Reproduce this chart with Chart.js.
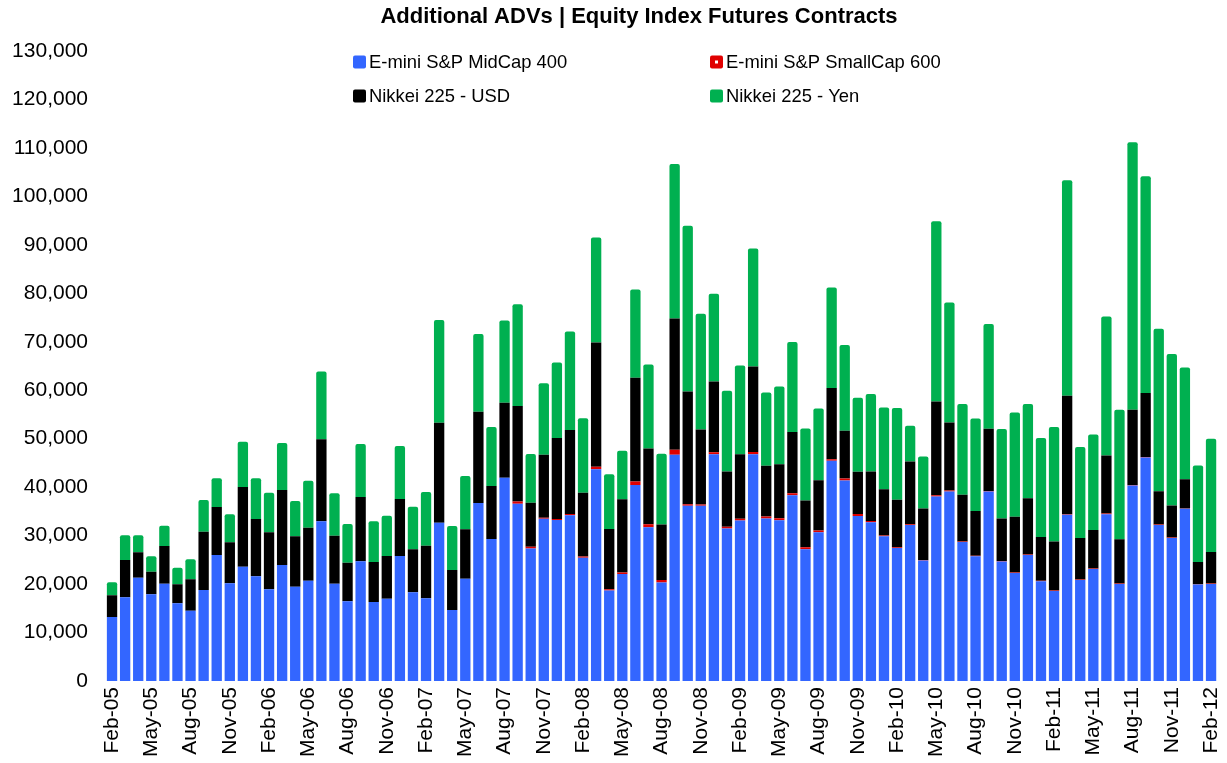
<!DOCTYPE html>
<html lang="en">
<head>
<meta charset="UTF-8">
<title>Additional ADVs | Equity Index Futures Contracts</title>
<script src="https://cdn.jsdelivr.net/npm/chart.js"></script>
<style>
  html, body { margin: 0; padding: 0; background: #fff; }
  #wrap { width: 1227px; height: 763px; position: relative; }
</style>
</head>
<body>
<div id="wrap"><canvas id="grafico"></canvas></div>
<script>
// months, Feb-05 .. Feb-12
const categories = [
  'Feb-05','Mar-05','Apr-05','May-05','Jun-05','Jul-05','Aug-05','Sep-05','Oct-05','Nov-05','Dec-05','Jan-06',
  'Feb-06','Mar-06','Apr-06','May-06','Jun-06','Jul-06','Aug-06','Sep-06','Oct-06','Nov-06','Dec-06','Jan-07',
  'Feb-07','Mar-07','Apr-07','May-07','Jun-07','Jul-07','Aug-07','Sep-07','Oct-07','Nov-07','Dec-07','Jan-08',
  'Feb-08','Mar-08','Apr-08','May-08','Jun-08','Jul-08','Aug-08','Sep-08','Oct-08','Nov-08','Dec-08','Jan-09',
  'Feb-09','Mar-09','Apr-09','May-09','Jun-09','Jul-09','Aug-09','Sep-09','Oct-09','Nov-09','Dec-09','Jan-10',
  'Feb-10','Mar-10','Apr-10','May-10','Jun-10','Jul-10','Aug-10','Sep-10','Oct-10','Nov-10','Dec-10','Jan-11',
  'Feb-11','Mar-11','Apr-11','May-11','Jun-11','Jul-11','Aug-11','Sep-11','Oct-11','Nov-11','Dec-11','Jan-12',
  'Feb-12'
];

const midcap400 = [
  13210,17270,21320,17890,20080,16040,14510,18780,26010,20170,23590,21610,
  18930,23940,19460,20700,32960,20080,16450,24710,16300,16990,25800,18310,
  17070,32670,14650,21120,36740,29310,41960,36550,27320,33500,33230,34200,
  25450,43690,18650,22100,40470,31740,20300,46670,36140,36140,46810,31450,
  33100,46810,33520,33180,38350,27200,30710,45430,41360,34070,32770,29880,
  27460,32210,24840,38060,39090,28700,25750,39090,24640,22300,26020,20590,
  18590,34280,20860,23130,34420,20030,40330,46110,32210,29530,35520,19890,
  20030
];

const smallcap600 = [
  0,0,0,0,0,0,0,0,0,0,0,0,
  0,0,0,0,0,0,0,0,0,0,0,0,
  0,0,0,0,0,0,0,470,400,200,200,250,
  250,540,300,300,680,600,550,1030,340,280,400,400,
  400,450,400,400,400,400,350,350,400,400,250,150,
  150,150,150,250,200,100,100,100,100,100,100,100,
  100,150,100,100,150,100,100,100,100,100,100,100,
  100
];

const nikkeiUsd = [
  4480,7700,5240,4670,7790,3920,6480,12040,9900,8460,16450,11830,
  11760,15480,10410,10940,16930,9910,7970,13270,8260,8810,11760,8870,
  10860,20640,8260,10190,18840,10940,15480,19740,9080,13010,16730,17360,
  13170,25600,12440,15120,21420,15630,11430,27120,23260,15470,14600,11370,
  13310,17640,10480,11170,12610,9630,10390,14660,9870,8690,10200,9560,
  9770,12930,10590,19370,14050,9610,9250,12850,8780,11470,11610,9050,
  10080,24420,8570,7950,11950,9130,15530,13200,6860,6570,6030,4580,
  6510
];

const nikkeiYen = [
  2680,5100,3510,3180,4190,3420,4130,6540,5930,5780,9350,8400,
  8180,9700,7280,9700,13950,8750,7980,10940,8400,8320,10940,8800,
  11080,21200,9080,11000,16040,12180,16930,20990,10050,14730,15540,20290,
  15350,21670,11290,9980,18230,17340,14600,31880,34220,23900,18110,16670,
  18300,24370,15130,16020,18580,14870,14780,20780,17690,15280,15980,16850,
  18930,7370,10740,37170,24780,18730,19060,21620,18460,21530,19410,20380,
  23620,44460,18730,19680,28710,26700,55200,44730,33520,31260,23050,19890,
  23330
];

const yTicks = [0,10000,20000,30000,40000,50000,60000,70000,80000,90000,100000,110000,120000,130000];

const TITULO = 'Additional ADVs | Equity Index Futures Contracts';
const FONT = "'Liberation Sans', Arial, sans-serif";

const series = [
  { label: 'E-mini S&P MidCap 400', data: midcap400, color: '#3366FF' },
  { label: 'E-mini S&P SmallCap 600', data: smallcap600, color: '#E00000' },
  { label: 'Nikkei 225 - USD', data: nikkeiUsd, color: '#000000' },
  { label: 'Nikkei 225 - Yen', data: nikkeiYen, color: '#00B050' }
];

// title + legend drawn by hand (two fixed legend columns like the original)
const leyenda = {
  id: 'leyenda',
  afterDraw(chart) {
    const ctx = chart.ctx;
    ctx.save();
    ctx.fillStyle = '#000';
    ctx.textAlign = 'center';
    ctx.textBaseline = 'middle';
    ctx.font = 'bold 22px ' + FONT;
    ctx.fillText(TITULO, 639, 17);

    const cols = [353, 710];
    const rows = [62, 96];
    ctx.textAlign = 'left';
    ctx.font = '18.4px ' + FONT;
    series.forEach((s, i) => {
      const x = cols[i % 2];
      const y = rows[Math.floor(i / 2)];
      ctx.fillStyle = s.color;
      ctx.beginPath();
      ctx.roundRect(x, y - 6.5, 13, 13, 2);
      ctx.fill();
      if (i === 1) {
        ctx.fillStyle = '#fff';
        ctx.fillRect(x + 5, y - 1.5, 3, 3);
      }
      ctx.fillStyle = '#000';
      ctx.fillText(s.label, x + 16, y + 1);
    });
    ctx.restore();
  }
};

new Chart(document.getElementById('grafico'), {
  type: 'bar',
  data: {
    labels: categories,
    datasets: series.map(s => ({
      label: s.label,
      data: s.data,
      backgroundColor: s.color,
      borderWidth: 0,
      borderRadius: 2,
      categoryPercentage: 1.0,
      barPercentage: 0.79
    }))
  },
  options: {
    responsive: true,
    maintainAspectRatio: false,
    animation: false,
    layout: { padding: { left: 0, right: 9.4, top: 51, bottom: 0 } },
    plugins: {
      legend: { display: false },
      tooltip: { enabled: false },
      title: { display: false }
    },
    scales: {
      x: {
        stacked: true,
        grid: { display: false, drawTicks: false },
        border: { display: false },
        afterFit(scale) {
          scale.height = 82;
          scale.paddingLeft = 0;
          scale.paddingRight = 0;
        },
        ticks: {
          autoSkip: false,
          maxRotation: 90,
          minRotation: 90,
          padding: 6,
          color: '#000',
          font: { family: FONT, size: 21 },
          callback(value, index) {
            return index % 3 === 0 ? categories[index] : '';
          }
        }
      },
      y: {
        stacked: true,
        min: 0,
        max: 130000,
        grid: { display: false, drawTicks: false },
        border: { display: false },
        afterFit(scale) { scale.width = 105.5; },
        afterBuildTicks(scale) { scale.ticks = yTicks.map(v => ({ value: v })); },
        ticks: {
          padding: 17.5,
          color: '#000',
          font: { family: FONT, size: 21 },
          callback(value) { return value.toLocaleString('en-US'); }
        }
      }
    }
  },
  plugins: [leyenda]
});
</script>
</body>
</html>
